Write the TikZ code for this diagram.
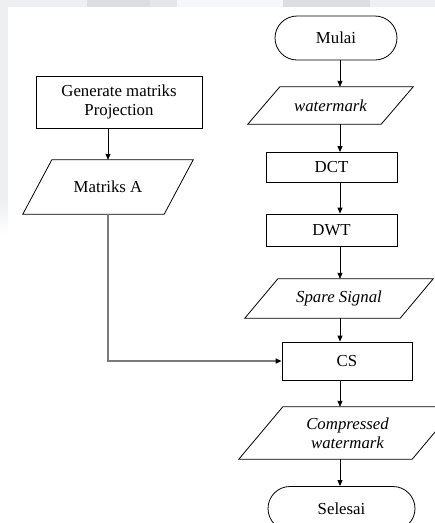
\documentclass[tikz,border=0pt]{standalone}
\usepackage{fontspec}
\setmainfont{Liberation Serif}
\usetikzlibrary{arrows.meta,calc}

\definecolor{bandlight}{HTML}{EDEFF1}
\definecolor{banddark}{HTML}{DCDDDF}
\definecolor{bandmid}{HTML}{E5E6E8}
\definecolor{bandpale}{HTML}{F6F7F8}
\definecolor{linkgray}{HTML}{7A7A7A}

\tikzset{
  txt/.style={font=\fontsize{16.8}{19}\selectfont, align=center, inner sep=0pt},
  itxt/.style={font=\fontsize{16.8}{19}\selectfont\itshape, align=center, inner sep=0pt},
  proc/.style={txt, draw=black, line width=0.8pt, rectangle},
  term/.style={txt, draw=black, line width=0.8pt, rectangle, rounded corners=22pt},
  io/.style={itxt, rectangle},
  iotext/.style={txt, rectangle},
  arr/.style={line width=0.8pt, -{Triangle[length=6pt,width=5pt]}},
  link/.style={linkgray, line width=1.4pt, -{Triangle[length=6pt,width=5pt,black]}},
}

% parallelogram drawn on the frame of a named node: #1 node, #2 slant
\newcommand\ioshape[2]{%
  \draw[line width=0.8pt, line join=miter]
    ($(#1.north west)+(#2,0)$) -- (#1.north east)
    -- ($(#1.south east)-(#2,0)$) -- (#1.south west) -- cycle;}

\begin{document}
\begin{tikzpicture}[x=1pt, y=-1pt]
  \useasboundingbox (0,0) rectangle (435,523);
  \clip (0,0) rectangle (435,523);

  % faint page edge bands
  \fill[bandlight] (0,0) rectangle (87,7);
  \fill[banddark] (87,0) rectangle (150,7);
  \fill[bandmid] (150,0) rectangle (177,7);
  \fill[bandpale] (177,0) rectangle (283,7);
  \fill[banddark] (283,0) rectangle (370,7);
  \fill[bandlight] (370,0) rectangle (435,7);
  \fill[bandlight] (0,7) rectangle (8,200);
  \shade[top color=bandlight, bottom color=white] (0,200) rectangle (8,235);

  % main column
  \node[term, minimum width=122pt, minimum height=44pt] (start) at (336,38) {Mulai};
  \node[io, minimum width=165pt, minimum height=37pt] (wm) at (330.5,105.5) {watermark};
  \ioshape{wm}{32}
  \node[proc, minimum width=131pt, minimum height=30pt] (dct) at (331.5,167.5) {DCT};
  \node[proc, minimum width=131pt, minimum height=32pt] (dwt) at (331.5,230) {DWT};
  \node[io, minimum width=188pt, minimum height=39pt] (ss) at (339,298.5) {Spare Signal};
  \ioshape{ss}{33}
  \node[proc, minimum width=130pt, minimum height=38pt] (cs) at (347,361) {CS};
  \node[io, minimum width=217pt, minimum height=52pt] (cw) at (347.5,433) {Compressed\\watermark};
  \ioshape{cw}{44}
  \node[term, minimum width=147pt, minimum height=44pt] (stop) at (341.5,508.5) {Selesai};

  % side column
  \node[proc, minimum width=166pt, minimum height=52pt] (gen) at (119,102) {Generate matriks\\Projection};
  \node[iotext, minimum width=170pt, minimum height=54pt] (mata) at (108,187) {Matriks A};
  \ioshape{mata}{29}

  % flow axis of the main column
  \coordinate (axis) at (340,0);

  \draw[arr] (start.south -| axis) -- (wm.north -| axis);
  \draw[arr] (wm.south -| axis) -- (dct.north -| axis);
  \draw[arr] (dct.south -| axis) -- (dwt.north -| axis);
  \draw[arr] (dwt.south -| axis) -- (ss.north -| axis);
  \draw[arr] (ss.south -| axis) -- (cs.north -| axis);
  \draw[arr] (cs.south -| axis) -- (cw.north -| axis);
  \draw[arr] (cw.south -| axis) -- (stop.north -| axis);

  \draw[arr] (gen.south -| mata.south) -- (mata.north -| mata.south);
  \draw[link] (mata.south) |- (cs.west);
\end{tikzpicture}
\end{document}
